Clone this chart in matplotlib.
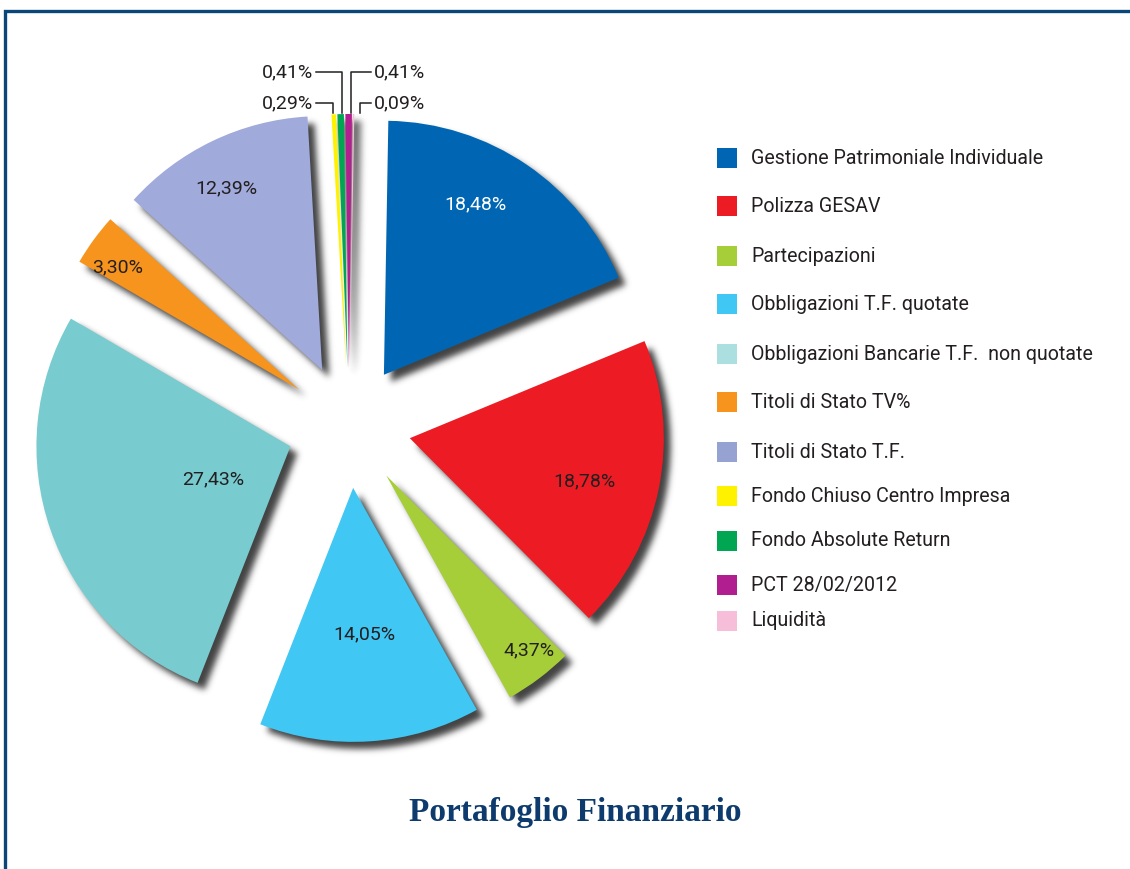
import numpy as np
import matplotlib
matplotlib.use('Agg')
import matplotlib.pyplot as plt
from matplotlib.patches import Wedge, Rectangle

# data
categorie = ['Gestione Patrimoniale Individuale', 'Polizza GESAV', 'Partecipazioni',
             'Obbligazioni T.F. quotate', 'Obbligazioni Bancarie T.F.  non quotate',
             'Titoli di Stato TV%', 'Titoli di Stato T.F.', 'Fondo Chiuso Centro Impresa',
             'Fondo Absolute Return', 'PCT 28/02/2012', 'Liquidità']
percentuali = [18.48, 18.78, 4.37, 14.05, 27.43, 3.30, 12.39, 0.29, 0.41, 0.41, 0.09]

colori_fette = ['#0066B3', '#ED1C24', '#A6CE39', '#40C7F4', '#78CCCF', '#F7941D',
                '#A0AADB', '#FFF200', '#00A651', '#B21F8E', '#F6BED8']
colori_legenda = ['#0066B3', '#ED1C24', '#A6CE39', '#40C7F4', '#ACDFE0', '#F7941D',
                  '#96A2D2', '#FFF200', '#00A651', '#B01E8F', '#F6BED8']

W, H = 1130, 869
R = 254
centro = (349, H - 426)
testo_scuro = '#231F20'
font = 'Roboto'


def fmt(v):
    return f'{v:.2f}%'.replace('.', ',')


def ombra(img, dpi):
    # blurred drop shadow
    pad = 16
    a = np.pad(img[:, :, 3], pad)
    k = np.exp(-0.5 * (np.arange(-9, 10) / 3.2) ** 2)
    k /= k.sum()
    a = np.array([np.convolve(r, k, mode='same') for r in a])
    a = np.array([np.convolve(c, k, mode='same') for c in a.T]).T
    out = np.zeros(a.shape + (4,))
    out[..., :3] = 0.26
    out[..., 3] = np.clip(a * 1.0, 0, 1)
    return out, -pad, -pad


fig = plt.figure(figsize=(W / 100, H / 100), dpi=100)
ax = fig.add_axes([0, 0, 1, 1])

explode = [62] * 7 + [58] * 4
wedges, _ = ax.pie(percentuali, colors=colori_fette, startangle=89, counterclock=False,
                   radius=R, center=centro, explode=explode,
                   wedgeprops=dict(linewidth=0))
ax.set_xlim(0, W)
ax.set_ylim(0, H)
ax.set_aspect('equal')
ax.axis('off')

# shadows
for w in wedges:
    w.set_zorder(3)
    cx, cy = w.center
    s = Wedge((cx + 7, cy - 7), w.r, w.theta1, w.theta2, facecolor='black',
              linewidth=0, zorder=1)
    s.set_agg_filter(ombra)
    ax.add_patch(s)

# percentage labels on the big slices
dist = [0.76, 0.71, 0.89, 0.58, 0.33, 0.86, 0.81]
ang = [6, -2.5, 2.3, 0.4, 4.3, 2.2, 2.2]
for i in range(7):
    w = wedges[i]
    m = np.deg2rad((w.theta1 + w.theta2) / 2 + ang[i])
    x = w.center[0] + w.r * dist[i] * np.cos(m)
    y = w.center[1] + w.r * dist[i] * np.sin(m)
    ax.text(x, y, fmt(percentuali[i]), ha='center', va='center', fontsize=14,
            family=font, color='white' if i == 0 else testo_scuro, zorder=5)

# small slices with leader lines
lato = ['l', 'l', 'r', 'r']
riga = [H - 103, H - 72, H - 72, H - 103]
spost = [-1, 1, 2, 6]
for j, i in enumerate(range(7, 11)):
    w = wedges[i]
    m = np.deg2rad((w.theta1 + w.theta2) / 2)
    xt = w.center[0] + w.r * np.cos(m) + spost[j]
    yt = w.center[1] + w.r * np.sin(m) + 1
    xe = 316 if lato[j] == 'l' else 371
    ax.plot([xt, xt, xe], [yt, riga[j], riga[j]], color=testo_scuro, lw=1.1, zorder=4)
    ax.text(xe - 3 if lato[j] == 'l' else xe + 3, riga[j], fmt(percentuali[i]),
            ha='right' if lato[j] == 'l' else 'left', va='center', fontsize=14,
            family=font, color=testo_scuro, zorder=5)

# legend
righe = [158, 206, 256, 304, 354, 402, 452, 496, 541, 585, 621]
for lab, col, y in zip(categorie, colori_legenda, righe):
    ax.add_patch(Rectangle((717, H - y - 10), 20, 20, facecolor=col, lw=0))
    ax.text(751, H - y, lab, ha='left', va='center', fontsize=14.1, family=font,
            color=testo_scuro)

# title
ax.text(575, H - 813, 'Portafoglio Finanziario', ha='center', va='center',
        fontsize=24, fontweight='bold', family='Liberation Serif', color='#0D3B6E')

# frame
ax.add_patch(Rectangle((5, -20), 1200, H - 11 + 20, fill=False, edgecolor='#0A4778',
                       lw=2.4, zorder=6))

fig.savefig('out.png', dpi=100)
